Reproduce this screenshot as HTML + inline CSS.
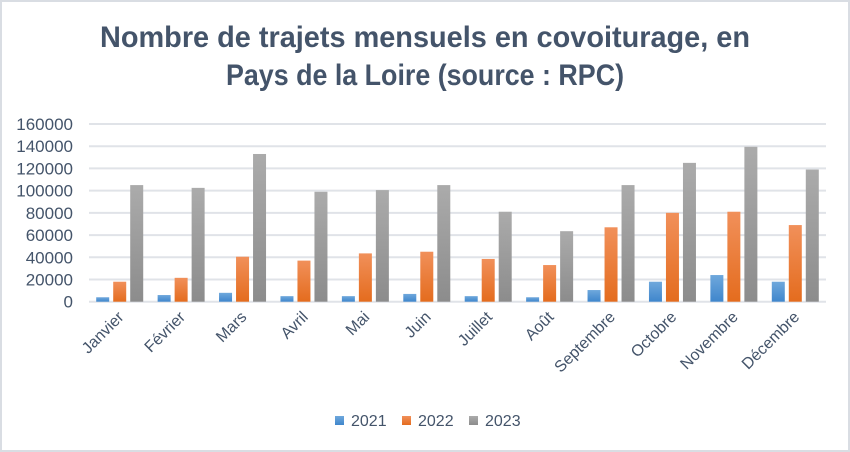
<!DOCTYPE html>
<html><head><meta charset="utf-8"><style>
html,body{margin:0;padding:0;background:#fff;}
svg{display:block;font-family:"Liberation Sans",sans-serif;}
</style></head><body>
<svg width="850" height="452" viewBox="0 0 850 452" xmlns="http://www.w3.org/2000/svg">
<defs>
<linearGradient id="gb" x1="0" y1="0" x2="0" y2="1"><stop offset="0" stop-color="#6fa8dc"/><stop offset="1" stop-color="#3f86cc"/></linearGradient>
<linearGradient id="go" x1="0" y1="0" x2="0" y2="1"><stop offset="0" stop-color="#f1905a"/><stop offset="1" stop-color="#e46c1e"/></linearGradient>
<linearGradient id="gg" x1="0" y1="0" x2="0" y2="1"><stop offset="0" stop-color="#ababab"/><stop offset="1" stop-color="#8c8c8c"/></linearGradient>
</defs>
<rect x="0.5" y="0.5" width="849" height="451" fill="#fff" stroke="#d9dde3" stroke-width="3"/>
<text x="425" y="47" text-anchor="middle" font-size="30" font-weight="bold" fill="#44546a" textLength="650" lengthAdjust="spacingAndGlyphs">Nombre de trajets mensuels en covoiturage, en</text>
<text x="425" y="85" text-anchor="middle" font-size="30" font-weight="bold" fill="#44546a" textLength="398" lengthAdjust="spacingAndGlyphs">Pays de la Loire (source : RPC)</text>
<g id="grid" stroke="#e0e3e8" stroke-width="2"></g>
<g id="ylab" font-size="17" fill="#44546a" text-anchor="end"></g>
<g id="bars"></g>
<g id="xlab" font-size="16" fill="#44546a" text-anchor="end"></g>
<rect x="335" y="416" width="9" height="9" fill="url(#gb)"/>
<text x="351" y="426" font-size="16" fill="#44546a">2021</text>
<rect x="402" y="416" width="9" height="9" fill="url(#go)"/>
<text x="418" y="426" font-size="16" fill="#44546a">2022</text>
<rect x="469" y="416" width="9" height="9" fill="url(#gg)"/>
<text x="485" y="426" font-size="16" fill="#44546a">2023</text>
<script>
var ns="http://www.w3.org/2000/svg";
function el(p,t,a,txt){var e=document.createElementNS(ns,t);for(var k in a)e.setAttribute(k,a[k]);if(txt)e.textContent=txt;document.getElementById(p).appendChild(e);}
var y0=301.7,sc=177.7/160000,x0=89,x1=826;
for(var v=0;v<=160000;v+=20000){var y=y0-v*sc;el("grid","line",{x1:x0,x2:x1,y1:y,y2:y});el("ylab","text",{x:73,y:y+6},String(v));}
var m=["Janvier","Février","Mars","Avril","Mai","Juin","Juillet","Août","Septembre","Octobre","Novembre","Décembre"];
var d=[[4000,18000,105000],[6000,21500,102500],[8000,40500,133000],[5000,37000,99000],[5000,43500,100500],[7000,45000,105000],[5000,38500,81000],[4000,33000,63500],[10500,67000,105000],[18000,80000,125000],[24000,81000,139500],[18000,69000,119000]];
var gw=(x1-x0)/12,fills=["url(#gb)","url(#go)","url(#gg)"];
for(var i=0;i<12;i++){var c=x0+gw*(i+0.5);
for(var j=0;j<3;j++){var h=d[i][j]*sc;el("bars","rect",{x:c-6.5+(j-1)*17,y:y0-h,width:13,height:h,fill:fills[j]});}
el("xlab","text",{x:c+5,y:318,transform:"rotate(-45 "+(c+5)+" 318)"},m[i]);}
</script>
</svg>
</body></html>
